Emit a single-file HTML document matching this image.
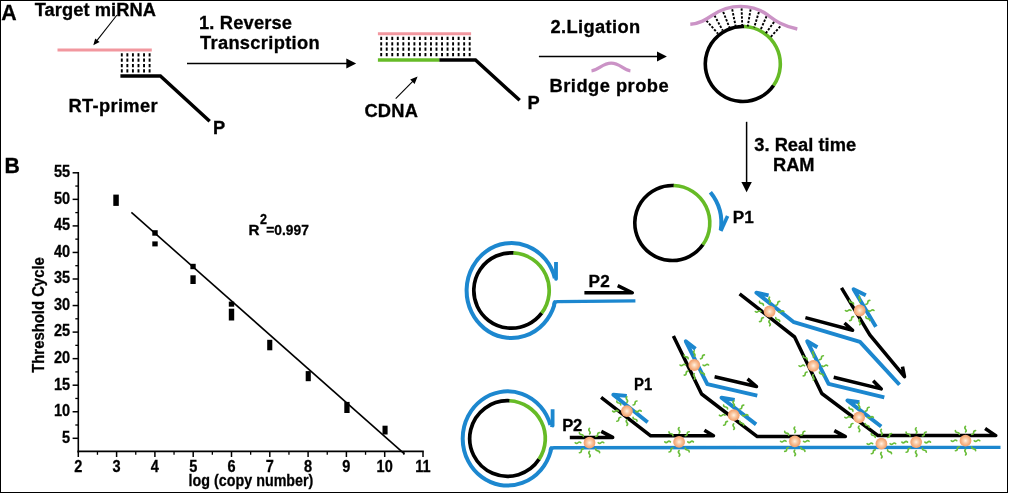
<!DOCTYPE html>
<html><head><meta charset="utf-8"><title>RAM miRNA assay</title>
<style>
html,body{margin:0;padding:0;background:#fff;}
svg{display:block;font-family:"Liberation Sans",sans-serif;}
text{stroke:#000;stroke-width:0.3px;}
</style></head><body>
<svg width="1009" height="494" viewBox="0 0 1009 494">
<defs>
<radialGradient id="bg" cx="50%" cy="50%" r="50%">
<stop offset="0" stop-color="#fff3e6"/><stop offset="0.35" stop-color="#fbd0ae"/><stop offset="0.8" stop-color="#f5ab7a"/><stop offset="1" stop-color="#f2a070"/>
</radialGradient>
<filter id="soft" filterUnits="userSpaceOnUse" x="0" y="0" width="1009" height="494"><feGaussianBlur stdDeviation="0.4"/></filter>
</defs>
<rect x="0" y="0" width="1008" height="1" fill="#000"/><rect x="0" y="0" width="1" height="493" fill="#000"/><rect x="1007" y="0" width="1" height="493" fill="#000"/><rect x="0" y="492" width="1008" height="1" fill="#000"/>
<g filter="url(#soft)">
<text x="1.3" y="19.8" font-size="21.8" font-weight="bold" text-anchor="start" textLength="15.4" lengthAdjust="spacingAndGlyphs" >A</text>
<text x="34.7" y="15.5" font-size="18.3" font-weight="bold" text-anchor="start" textLength="121.2" lengthAdjust="spacing" >Target miRNA</text>
<line x1="117" y1="15" x2="94.5" y2="43.6" stroke="#000" stroke-width="1.1" stroke-linecap="butt" />
<polygon points="93.3,45.2 95.2,38.6 99.6,42.0" fill="#000"/>
<line x1="57.5" y1="50" x2="151.8" y2="50" stroke="#f2979f" stroke-width="3" stroke-linecap="butt" />
<line x1="121.8" y1="53.2" x2="121.8" y2="72.8" stroke="#000" stroke-width="1.9" stroke-linecap="butt" stroke-dasharray="3.3 2.07"/>
<line x1="127.36" y1="53.2" x2="127.36" y2="72.8" stroke="#000" stroke-width="1.9" stroke-linecap="butt" stroke-dasharray="3.3 2.07"/>
<line x1="132.92" y1="53.2" x2="132.92" y2="72.8" stroke="#000" stroke-width="1.9" stroke-linecap="butt" stroke-dasharray="3.3 2.07"/>
<line x1="138.48" y1="53.2" x2="138.48" y2="72.8" stroke="#000" stroke-width="1.9" stroke-linecap="butt" stroke-dasharray="3.3 2.07"/>
<line x1="144.04" y1="53.2" x2="144.04" y2="72.8" stroke="#000" stroke-width="1.9" stroke-linecap="butt" stroke-dasharray="3.3 2.07"/>
<line x1="149.6" y1="53.2" x2="149.6" y2="72.8" stroke="#000" stroke-width="1.9" stroke-linecap="butt" stroke-dasharray="3.3 2.07"/>
<path d="M120.4,75.9 L160.4,75.9 L209.7,121.3" fill="none" stroke="#000" stroke-width="3.5" stroke-linejoin="miter"/>
<text x="68.6" y="112.3" font-size="18.3" font-weight="bold" text-anchor="start" textLength="88.9" lengthAdjust="spacing" >RT-primer</text>
<text x="213.0" y="134.3" font-size="18.3" font-weight="bold" text-anchor="start" >P</text>
<text x="199.0" y="28.9" font-size="18.3" font-weight="bold" text-anchor="start" textLength="93" lengthAdjust="spacing" >1. Reverse</text>
<text x="200.0" y="48.7" font-size="18.3" font-weight="bold" text-anchor="start" textLength="119.6" lengthAdjust="spacing" >Transcription</text>
<line x1="187" y1="63.5" x2="347" y2="63.5" stroke="#000" stroke-width="1.5" stroke-linecap="butt" />
<polygon points="356.2,63.5 346.3,58.4 346.3,68.6" fill="#000"/>
<line x1="377.9" y1="33.8" x2="471.1" y2="33.8" stroke="#f2979f" stroke-width="3" stroke-linecap="butt" />
<line x1="381.2" y1="36.8" x2="381.2" y2="56.4" stroke="#000" stroke-width="1.9" stroke-linecap="butt" stroke-dasharray="3.3 2.07"/>
<line x1="386.72999999999996" y1="36.8" x2="386.72999999999996" y2="56.4" stroke="#000" stroke-width="1.9" stroke-linecap="butt" stroke-dasharray="3.3 2.07"/>
<line x1="392.26" y1="36.8" x2="392.26" y2="56.4" stroke="#000" stroke-width="1.9" stroke-linecap="butt" stroke-dasharray="3.3 2.07"/>
<line x1="397.78999999999996" y1="36.8" x2="397.78999999999996" y2="56.4" stroke="#000" stroke-width="1.9" stroke-linecap="butt" stroke-dasharray="3.3 2.07"/>
<line x1="403.32" y1="36.8" x2="403.32" y2="56.4" stroke="#000" stroke-width="1.9" stroke-linecap="butt" stroke-dasharray="3.3 2.07"/>
<line x1="408.84999999999997" y1="36.8" x2="408.84999999999997" y2="56.4" stroke="#000" stroke-width="1.9" stroke-linecap="butt" stroke-dasharray="3.3 2.07"/>
<line x1="414.38" y1="36.8" x2="414.38" y2="56.4" stroke="#000" stroke-width="1.9" stroke-linecap="butt" stroke-dasharray="3.3 2.07"/>
<line x1="419.90999999999997" y1="36.8" x2="419.90999999999997" y2="56.4" stroke="#000" stroke-width="1.9" stroke-linecap="butt" stroke-dasharray="3.3 2.07"/>
<line x1="425.44" y1="36.8" x2="425.44" y2="56.4" stroke="#000" stroke-width="1.9" stroke-linecap="butt" stroke-dasharray="3.3 2.07"/>
<line x1="430.96999999999997" y1="36.8" x2="430.96999999999997" y2="56.4" stroke="#000" stroke-width="1.9" stroke-linecap="butt" stroke-dasharray="3.3 2.07"/>
<line x1="436.5" y1="36.8" x2="436.5" y2="56.4" stroke="#000" stroke-width="1.9" stroke-linecap="butt" stroke-dasharray="3.3 2.07"/>
<line x1="442.03" y1="36.8" x2="442.03" y2="56.4" stroke="#000" stroke-width="1.9" stroke-linecap="butt" stroke-dasharray="3.3 2.07"/>
<line x1="447.56" y1="36.8" x2="447.56" y2="56.4" stroke="#000" stroke-width="1.9" stroke-linecap="butt" stroke-dasharray="3.3 2.07"/>
<line x1="453.09" y1="36.8" x2="453.09" y2="56.4" stroke="#000" stroke-width="1.9" stroke-linecap="butt" stroke-dasharray="3.3 2.07"/>
<line x1="458.62" y1="36.8" x2="458.62" y2="56.4" stroke="#000" stroke-width="1.9" stroke-linecap="butt" stroke-dasharray="3.3 2.07"/>
<line x1="464.15" y1="36.8" x2="464.15" y2="56.4" stroke="#000" stroke-width="1.9" stroke-linecap="butt" stroke-dasharray="3.3 2.07"/>
<line x1="469.68" y1="36.8" x2="469.68" y2="56.4" stroke="#000" stroke-width="1.9" stroke-linecap="butt" stroke-dasharray="3.3 2.07"/>
<line x1="377.9" y1="60" x2="439.6" y2="60" stroke="#66bb26" stroke-width="3.5" stroke-linecap="butt" />
<path d="M439.4,60 L475.5,60 L519.7,100.3" fill="none" stroke="#000" stroke-width="3.5" stroke-linejoin="miter"/>
<text x="527.6" y="109" font-size="18.3" font-weight="bold" text-anchor="start" >P</text>
<text x="364.4" y="116.6" font-size="18.3" font-weight="bold" text-anchor="start" textLength="53.6" lengthAdjust="spacing" >CDNA</text>
<line x1="395.7" y1="98.7" x2="415.2" y2="78.8" stroke="#000" stroke-width="1.1" stroke-linecap="butt" />
<polygon points="417.6,76.4 410.2,79.6 414.6,83.9" fill="#000"/>
<text x="550.5" y="32.8" font-size="18.3" font-weight="bold" text-anchor="start" textLength="89.6" lengthAdjust="spacing" >2.Ligation</text>
<line x1="538.9" y1="56.5" x2="658" y2="56.5" stroke="#000" stroke-width="1.5" stroke-linecap="butt" />
<polygon points="666.9,56.5 657.0,51.4 657.0,61.6" fill="#000"/>
<path d="M591.5,70.9 C599,70.0 602.5,63.2 611.2,63.2 C620,63.2 623,70.0 630.4,70.9" fill="none" stroke="#cb93c6" stroke-width="3.3" stroke-linecap="butt"/>
<text x="549.6" y="92.4" font-size="18.3" font-weight="bold" text-anchor="start" textLength="119" lengthAdjust="spacing" >Bridge probe</text>
<path d="M773.70,85.24 A37.5,37.5 0 1 1 744.44,26.54" fill="none" stroke="#000" stroke-width="3.6" />
<path d="M744.11,26.52 A37.5,37.5 0 0 1 773.52,85.51" fill="none" stroke="#66bb26" stroke-width="3.6" />
<line x1="706.4" y1="20.6" x2="717.9" y2="33.55" stroke="#000" stroke-width="1.9" stroke-linecap="butt" stroke-dasharray="2.4 1.5"/>
<line x1="714.5" y1="15.5" x2="722.77" y2="30.58" stroke="#000" stroke-width="1.9" stroke-linecap="butt" stroke-dasharray="2.4 1.5"/>
<line x1="723.2" y1="11.9" x2="729.67" y2="28.07" stroke="#000" stroke-width="1.9" stroke-linecap="butt" stroke-dasharray="2.4 1.5"/>
<line x1="732.2" y1="9.3" x2="735.76" y2="26.86" stroke="#000" stroke-width="1.9" stroke-linecap="butt" stroke-dasharray="2.4 1.5"/>
<line x1="741.6" y1="8.4" x2="742.27" y2="26.3" stroke="#000" stroke-width="1.9" stroke-linecap="butt" stroke-dasharray="2.4 1.5"/>
<line x1="750.6" y1="9.3" x2="747.7" y2="26.47" stroke="#000" stroke-width="1.9" stroke-linecap="butt" stroke-dasharray="2.4 1.5"/>
<line x1="758.9" y1="11.9" x2="754.18" y2="27.52" stroke="#000" stroke-width="1.9" stroke-linecap="butt" stroke-dasharray="2.4 1.5"/>
<line x1="766.6" y1="16.1" x2="760.48" y2="30.05" stroke="#000" stroke-width="1.9" stroke-linecap="butt" stroke-dasharray="2.4 1.5"/>
<line x1="774.1" y1="21.9" x2="765.54" y2="33.66" stroke="#000" stroke-width="1.9" stroke-linecap="butt" stroke-dasharray="2.4 1.5"/>
<line x1="780.3" y1="26.4" x2="770.29" y2="37.43" stroke="#000" stroke-width="1.9" stroke-linecap="butt" stroke-dasharray="2.4 1.5"/>
<path d="M690.3,24.2 C700,23.5 706,19.5 712,15.5 C720,10 730,6.4 740.6,6.4 C751,6.4 760,9.5 767,14.5 C774,19.5 780,25.5 797.3,29" fill="none" stroke="#cb93c6" stroke-width="3.4" stroke-linejoin="round"/>
<line x1="746.6" y1="121.8" x2="746.6" y2="183" stroke="#000" stroke-width="1.5" stroke-linecap="butt" />
<polygon points="746.6,192.3 741.4,182.0 751.8,182.0" fill="#000"/>
<text x="754.2" y="150.7" font-size="18.3" font-weight="bold" text-anchor="start" textLength="102" lengthAdjust="spacing" >3. Real time</text>
<text x="773.0" y="170.8" font-size="18.3" font-weight="bold" text-anchor="start" textLength="41.6" lengthAdjust="spacing" >RAM</text>
<path d="M703.02,244.51 A37.5,37.5 0 1 1 673.94,185.54" fill="none" stroke="#000" stroke-width="3.6" />
<path d="M673.61,185.52 A37.5,37.5 0 0 1 702.83,244.78" fill="none" stroke="#66bb26" stroke-width="3.6" />
<path d="M710.38,192.16 A49,49 0 0 1 720.76,230.24" fill="none" stroke="#1b87cf" stroke-width="4.0" />
<path d="M720.8,231.0 L727.6,216" fill="none" stroke="#1b87cf" stroke-width="3.6" stroke-linejoin="round"/>
<text x="732.8" y="223.4" font-size="17.2" font-weight="bold" text-anchor="start" >P1</text>
<path d="M541.81,312.92 A37.7,37.7 0 1 1 513.80,252.87" fill="none" stroke="#000" stroke-width="3.7" />
<path d="M513.47,252.85 A37.7,37.7 0 0 1 541.61,313.19" fill="none" stroke="#66bb26" stroke-width="3.7" />
<path d="M635.4,300.9 L557.6,301.6 Q554.4,301.6 554.1,305.6" fill="none" stroke="#1b87cf" stroke-width="3.4" stroke-linejoin="round"/>
<path d="M555.3,302.0 Q554.1,302.0 554.1,305.6 A44.9,47.5 0 1 1 554.87,278.20" fill="none" stroke="#1b87cf" stroke-width="4.0" stroke-linejoin="round"/>
<path d="M554.9,278.2 L556.0,278.7 L556.0,262.0" fill="none" stroke="#1b87cf" stroke-width="3.8" stroke-linejoin="round"/>
<text x="588.5" y="287.1" font-size="17.2" font-weight="bold" text-anchor="start" textLength="21.4" lengthAdjust="spacing" >P2</text>
<path d="M584.4,292.7 L632.3,292.7 L617.7,285.6" fill="none" stroke="#000" stroke-width="3.5" stroke-linejoin="round"/>
<path d="M539.20,459.09 A37.8,37.8 0 1 1 509.81,400.77" fill="none" stroke="#000" stroke-width="3.7" />
<path d="M509.48,400.75 A37.8,37.8 0 0 1 539.02,459.36" fill="none" stroke="#66bb26" stroke-width="3.7" />
<path d="M1000.5,447.4 L554.0,447.7 Q550.8,447.7 550.5,451.7" fill="none" stroke="#1b87cf" stroke-width="3.4" stroke-linejoin="round"/>
<path d="M551.7,448.09999999999997 Q550.5,448.09999999999997 550.5,451.7 A44.8,47.1 0 1 1 550.42,425.00" fill="none" stroke="#1b87cf" stroke-width="4.0" stroke-linejoin="round"/>
<path d="M550.4,425.0 L552.6,425.5 L552.6,409.2" fill="none" stroke="#1b87cf" stroke-width="3.8" stroke-linejoin="round"/>
<text x="562.2" y="431" font-size="16.6" font-weight="bold" text-anchor="start" textLength="20" lengthAdjust="spacing" >P2</text>
<path d="M569.8,437.4 L612.7,437.4 L601.3,431.4" fill="none" stroke="#000" stroke-width="3.5" stroke-linejoin="round"/>
<path d="M601.1,397.3 L650.7,435.8 L713.5,435.8 L704.4,430.3" fill="none" stroke="#000" stroke-width="3.5" stroke-linejoin="round"/>
<path d="M647.7,422.2 L613.3,394.7 L626.8,395.9" fill="none" stroke="#1b87cf" stroke-width="3.9" stroke-linejoin="round"/>
<text x="634" y="389.6" font-size="15.8" font-weight="bold" text-anchor="start" textLength="18.2" lengthAdjust="spacingAndGlyphs" >P1</text>
<path d="M673.4,336 L701.6,394 L757.3,436.6 L845.4,436.6 L834.3,430.6" fill="none" stroke="#000" stroke-width="3.5" stroke-linejoin="round"/>
<path d="M757.3,395.6 L707.3,384.2 L685.8,341.3 L695.5,348.9" fill="none" stroke="#1b87cf" stroke-width="3.9" stroke-linejoin="round"/>
<path d="M714.6,376.8 L756.5,386.5 L747.5,378.8" fill="none" stroke="#000" stroke-width="3.5" stroke-linejoin="round"/>
<path d="M756.1,424.4 L721.5,397.8 L734.7,399.9" fill="none" stroke="#1b87cf" stroke-width="3.9" stroke-linejoin="round"/>
<path d="M739.6,293.9 L794.6,337 L821.8,393.5 L878,435.6 L995.8,435.6 L985.1,428.5" fill="none" stroke="#000" stroke-width="3.5" stroke-linejoin="round"/>
<path d="M899.5,384.8 L860,341.9 L793.9,322.2 L756.4,292.7 L768.6,295.3" fill="none" stroke="#1b87cf" stroke-width="3.9" stroke-linejoin="round"/>
<path d="M805.4,317.6 L852.6,330.3 L844.5,323" fill="none" stroke="#000" stroke-width="3.5" stroke-linejoin="round"/>
<path d="M884.3,397.4 L828.6,383.8 L807.2,341.3 L817.4,347.2" fill="none" stroke="#1b87cf" stroke-width="3.9" stroke-linejoin="round"/>
<path d="M833.7,377.3 L881.3,388.9 L873.2,380.8" fill="none" stroke="#000" stroke-width="3.5" stroke-linejoin="round"/>
<path d="M881.2,426.5 L847.4,400.4 L859.4,402.2" fill="none" stroke="#1b87cf" stroke-width="3.9" stroke-linejoin="round"/>
<path d="M841.5,287.8 L869.8,334.8 L904.5,376.7 L902.5,366.6" fill="none" stroke="#000" stroke-width="3.5" stroke-linejoin="round"/>
<path d="M875.9,326.7 L853.6,289.2 L865.8,295.3" fill="none" stroke="#1b87cf" stroke-width="3.9" stroke-linejoin="round"/>
<g transform="translate(589.5,442.7)"><path transform="rotate(0)" d="M0,-8.7 q1.4,-1.4 0,-2.8 q-1.4,-1.4 0,-2.8" fill="none" stroke="#69bd38" stroke-width="1.6" stroke-linecap="round"/><path transform="rotate(45)" d="M0,-8.7 q1.4,-1.4 0,-2.8 q-1.4,-1.4 0,-2.8" fill="none" stroke="#69bd38" stroke-width="1.6" stroke-linecap="round"/><path transform="rotate(90)" d="M0,-8.7 q1.4,-1.4 0,-2.8 q-1.4,-1.4 0,-2.8" fill="none" stroke="#69bd38" stroke-width="1.6" stroke-linecap="round"/><path transform="rotate(135)" d="M0,-8.7 q1.4,-1.4 0,-2.8 q-1.4,-1.4 0,-2.8" fill="none" stroke="#69bd38" stroke-width="1.6" stroke-linecap="round"/><path transform="rotate(180)" d="M0,-8.7 q1.4,-1.4 0,-2.8 q-1.4,-1.4 0,-2.8" fill="none" stroke="#69bd38" stroke-width="1.6" stroke-linecap="round"/><path transform="rotate(225)" d="M0,-8.7 q1.4,-1.4 0,-2.8 q-1.4,-1.4 0,-2.8" fill="none" stroke="#69bd38" stroke-width="1.6" stroke-linecap="round"/><path transform="rotate(270)" d="M0,-8.7 q1.4,-1.4 0,-2.8 q-1.4,-1.4 0,-2.8" fill="none" stroke="#69bd38" stroke-width="1.6" stroke-linecap="round"/><path transform="rotate(315)" d="M0,-8.7 q1.4,-1.4 0,-2.8 q-1.4,-1.4 0,-2.8" fill="none" stroke="#69bd38" stroke-width="1.6" stroke-linecap="round"/><circle r="5.9" fill="url(#bg)"/></g>
<g transform="translate(626.9,411.1)"><path transform="rotate(0)" d="M0,-8.7 q1.4,-1.4 0,-2.8 q-1.4,-1.4 0,-2.8" fill="none" stroke="#69bd38" stroke-width="1.6" stroke-linecap="round"/><path transform="rotate(45)" d="M0,-8.7 q1.4,-1.4 0,-2.8 q-1.4,-1.4 0,-2.8" fill="none" stroke="#69bd38" stroke-width="1.6" stroke-linecap="round"/><path transform="rotate(90)" d="M0,-8.7 q1.4,-1.4 0,-2.8 q-1.4,-1.4 0,-2.8" fill="none" stroke="#69bd38" stroke-width="1.6" stroke-linecap="round"/><path transform="rotate(135)" d="M0,-8.7 q1.4,-1.4 0,-2.8 q-1.4,-1.4 0,-2.8" fill="none" stroke="#69bd38" stroke-width="1.6" stroke-linecap="round"/><path transform="rotate(180)" d="M0,-8.7 q1.4,-1.4 0,-2.8 q-1.4,-1.4 0,-2.8" fill="none" stroke="#69bd38" stroke-width="1.6" stroke-linecap="round"/><path transform="rotate(225)" d="M0,-8.7 q1.4,-1.4 0,-2.8 q-1.4,-1.4 0,-2.8" fill="none" stroke="#69bd38" stroke-width="1.6" stroke-linecap="round"/><path transform="rotate(270)" d="M0,-8.7 q1.4,-1.4 0,-2.8 q-1.4,-1.4 0,-2.8" fill="none" stroke="#69bd38" stroke-width="1.6" stroke-linecap="round"/><path transform="rotate(315)" d="M0,-8.7 q1.4,-1.4 0,-2.8 q-1.4,-1.4 0,-2.8" fill="none" stroke="#69bd38" stroke-width="1.6" stroke-linecap="round"/><circle r="5.9" fill="url(#bg)"/></g>
<g transform="translate(679.1,441.9)"><path transform="rotate(0)" d="M0,-8.7 q1.4,-1.4 0,-2.8 q-1.4,-1.4 0,-2.8" fill="none" stroke="#69bd38" stroke-width="1.6" stroke-linecap="round"/><path transform="rotate(45)" d="M0,-8.7 q1.4,-1.4 0,-2.8 q-1.4,-1.4 0,-2.8" fill="none" stroke="#69bd38" stroke-width="1.6" stroke-linecap="round"/><path transform="rotate(90)" d="M0,-8.7 q1.4,-1.4 0,-2.8 q-1.4,-1.4 0,-2.8" fill="none" stroke="#69bd38" stroke-width="1.6" stroke-linecap="round"/><path transform="rotate(135)" d="M0,-8.7 q1.4,-1.4 0,-2.8 q-1.4,-1.4 0,-2.8" fill="none" stroke="#69bd38" stroke-width="1.6" stroke-linecap="round"/><path transform="rotate(180)" d="M0,-8.7 q1.4,-1.4 0,-2.8 q-1.4,-1.4 0,-2.8" fill="none" stroke="#69bd38" stroke-width="1.6" stroke-linecap="round"/><path transform="rotate(225)" d="M0,-8.7 q1.4,-1.4 0,-2.8 q-1.4,-1.4 0,-2.8" fill="none" stroke="#69bd38" stroke-width="1.6" stroke-linecap="round"/><path transform="rotate(270)" d="M0,-8.7 q1.4,-1.4 0,-2.8 q-1.4,-1.4 0,-2.8" fill="none" stroke="#69bd38" stroke-width="1.6" stroke-linecap="round"/><path transform="rotate(315)" d="M0,-8.7 q1.4,-1.4 0,-2.8 q-1.4,-1.4 0,-2.8" fill="none" stroke="#69bd38" stroke-width="1.6" stroke-linecap="round"/><circle r="5.9" fill="url(#bg)"/></g>
<g transform="translate(694.3,365)"><path transform="rotate(0)" d="M0,-8.7 q1.4,-1.4 0,-2.8 q-1.4,-1.4 0,-2.8" fill="none" stroke="#69bd38" stroke-width="1.6" stroke-linecap="round"/><path transform="rotate(45)" d="M0,-8.7 q1.4,-1.4 0,-2.8 q-1.4,-1.4 0,-2.8" fill="none" stroke="#69bd38" stroke-width="1.6" stroke-linecap="round"/><path transform="rotate(90)" d="M0,-8.7 q1.4,-1.4 0,-2.8 q-1.4,-1.4 0,-2.8" fill="none" stroke="#69bd38" stroke-width="1.6" stroke-linecap="round"/><path transform="rotate(135)" d="M0,-8.7 q1.4,-1.4 0,-2.8 q-1.4,-1.4 0,-2.8" fill="none" stroke="#69bd38" stroke-width="1.6" stroke-linecap="round"/><path transform="rotate(180)" d="M0,-8.7 q1.4,-1.4 0,-2.8 q-1.4,-1.4 0,-2.8" fill="none" stroke="#69bd38" stroke-width="1.6" stroke-linecap="round"/><path transform="rotate(225)" d="M0,-8.7 q1.4,-1.4 0,-2.8 q-1.4,-1.4 0,-2.8" fill="none" stroke="#69bd38" stroke-width="1.6" stroke-linecap="round"/><path transform="rotate(270)" d="M0,-8.7 q1.4,-1.4 0,-2.8 q-1.4,-1.4 0,-2.8" fill="none" stroke="#69bd38" stroke-width="1.6" stroke-linecap="round"/><path transform="rotate(315)" d="M0,-8.7 q1.4,-1.4 0,-2.8 q-1.4,-1.4 0,-2.8" fill="none" stroke="#69bd38" stroke-width="1.6" stroke-linecap="round"/><circle r="5.9" fill="url(#bg)"/></g>
<g transform="translate(733.7,415.2)"><path transform="rotate(0)" d="M0,-8.7 q1.4,-1.4 0,-2.8 q-1.4,-1.4 0,-2.8" fill="none" stroke="#69bd38" stroke-width="1.6" stroke-linecap="round"/><path transform="rotate(45)" d="M0,-8.7 q1.4,-1.4 0,-2.8 q-1.4,-1.4 0,-2.8" fill="none" stroke="#69bd38" stroke-width="1.6" stroke-linecap="round"/><path transform="rotate(90)" d="M0,-8.7 q1.4,-1.4 0,-2.8 q-1.4,-1.4 0,-2.8" fill="none" stroke="#69bd38" stroke-width="1.6" stroke-linecap="round"/><path transform="rotate(135)" d="M0,-8.7 q1.4,-1.4 0,-2.8 q-1.4,-1.4 0,-2.8" fill="none" stroke="#69bd38" stroke-width="1.6" stroke-linecap="round"/><path transform="rotate(180)" d="M0,-8.7 q1.4,-1.4 0,-2.8 q-1.4,-1.4 0,-2.8" fill="none" stroke="#69bd38" stroke-width="1.6" stroke-linecap="round"/><path transform="rotate(225)" d="M0,-8.7 q1.4,-1.4 0,-2.8 q-1.4,-1.4 0,-2.8" fill="none" stroke="#69bd38" stroke-width="1.6" stroke-linecap="round"/><path transform="rotate(270)" d="M0,-8.7 q1.4,-1.4 0,-2.8 q-1.4,-1.4 0,-2.8" fill="none" stroke="#69bd38" stroke-width="1.6" stroke-linecap="round"/><path transform="rotate(315)" d="M0,-8.7 q1.4,-1.4 0,-2.8 q-1.4,-1.4 0,-2.8" fill="none" stroke="#69bd38" stroke-width="1.6" stroke-linecap="round"/><circle r="5.9" fill="url(#bg)"/></g>
<g transform="translate(794.8,441.3)"><path transform="rotate(0)" d="M0,-8.7 q1.4,-1.4 0,-2.8 q-1.4,-1.4 0,-2.8" fill="none" stroke="#69bd38" stroke-width="1.6" stroke-linecap="round"/><path transform="rotate(45)" d="M0,-8.7 q1.4,-1.4 0,-2.8 q-1.4,-1.4 0,-2.8" fill="none" stroke="#69bd38" stroke-width="1.6" stroke-linecap="round"/><path transform="rotate(90)" d="M0,-8.7 q1.4,-1.4 0,-2.8 q-1.4,-1.4 0,-2.8" fill="none" stroke="#69bd38" stroke-width="1.6" stroke-linecap="round"/><path transform="rotate(135)" d="M0,-8.7 q1.4,-1.4 0,-2.8 q-1.4,-1.4 0,-2.8" fill="none" stroke="#69bd38" stroke-width="1.6" stroke-linecap="round"/><path transform="rotate(180)" d="M0,-8.7 q1.4,-1.4 0,-2.8 q-1.4,-1.4 0,-2.8" fill="none" stroke="#69bd38" stroke-width="1.6" stroke-linecap="round"/><path transform="rotate(225)" d="M0,-8.7 q1.4,-1.4 0,-2.8 q-1.4,-1.4 0,-2.8" fill="none" stroke="#69bd38" stroke-width="1.6" stroke-linecap="round"/><path transform="rotate(270)" d="M0,-8.7 q1.4,-1.4 0,-2.8 q-1.4,-1.4 0,-2.8" fill="none" stroke="#69bd38" stroke-width="1.6" stroke-linecap="round"/><path transform="rotate(315)" d="M0,-8.7 q1.4,-1.4 0,-2.8 q-1.4,-1.4 0,-2.8" fill="none" stroke="#69bd38" stroke-width="1.6" stroke-linecap="round"/><circle r="5.9" fill="url(#bg)"/></g>
<g transform="translate(769.6,311.5)"><path transform="rotate(0)" d="M0,-8.7 q1.4,-1.4 0,-2.8 q-1.4,-1.4 0,-2.8" fill="none" stroke="#69bd38" stroke-width="1.6" stroke-linecap="round"/><path transform="rotate(45)" d="M0,-8.7 q1.4,-1.4 0,-2.8 q-1.4,-1.4 0,-2.8" fill="none" stroke="#69bd38" stroke-width="1.6" stroke-linecap="round"/><path transform="rotate(90)" d="M0,-8.7 q1.4,-1.4 0,-2.8 q-1.4,-1.4 0,-2.8" fill="none" stroke="#69bd38" stroke-width="1.6" stroke-linecap="round"/><path transform="rotate(135)" d="M0,-8.7 q1.4,-1.4 0,-2.8 q-1.4,-1.4 0,-2.8" fill="none" stroke="#69bd38" stroke-width="1.6" stroke-linecap="round"/><path transform="rotate(180)" d="M0,-8.7 q1.4,-1.4 0,-2.8 q-1.4,-1.4 0,-2.8" fill="none" stroke="#69bd38" stroke-width="1.6" stroke-linecap="round"/><path transform="rotate(225)" d="M0,-8.7 q1.4,-1.4 0,-2.8 q-1.4,-1.4 0,-2.8" fill="none" stroke="#69bd38" stroke-width="1.6" stroke-linecap="round"/><path transform="rotate(270)" d="M0,-8.7 q1.4,-1.4 0,-2.8 q-1.4,-1.4 0,-2.8" fill="none" stroke="#69bd38" stroke-width="1.6" stroke-linecap="round"/><path transform="rotate(315)" d="M0,-8.7 q1.4,-1.4 0,-2.8 q-1.4,-1.4 0,-2.8" fill="none" stroke="#69bd38" stroke-width="1.6" stroke-linecap="round"/><circle r="5.9" fill="url(#bg)"/></g>
<g transform="translate(859.7,310.5)"><path transform="rotate(0)" d="M0,-8.7 q1.4,-1.4 0,-2.8 q-1.4,-1.4 0,-2.8" fill="none" stroke="#69bd38" stroke-width="1.6" stroke-linecap="round"/><path transform="rotate(45)" d="M0,-8.7 q1.4,-1.4 0,-2.8 q-1.4,-1.4 0,-2.8" fill="none" stroke="#69bd38" stroke-width="1.6" stroke-linecap="round"/><path transform="rotate(90)" d="M0,-8.7 q1.4,-1.4 0,-2.8 q-1.4,-1.4 0,-2.8" fill="none" stroke="#69bd38" stroke-width="1.6" stroke-linecap="round"/><path transform="rotate(135)" d="M0,-8.7 q1.4,-1.4 0,-2.8 q-1.4,-1.4 0,-2.8" fill="none" stroke="#69bd38" stroke-width="1.6" stroke-linecap="round"/><path transform="rotate(180)" d="M0,-8.7 q1.4,-1.4 0,-2.8 q-1.4,-1.4 0,-2.8" fill="none" stroke="#69bd38" stroke-width="1.6" stroke-linecap="round"/><path transform="rotate(225)" d="M0,-8.7 q1.4,-1.4 0,-2.8 q-1.4,-1.4 0,-2.8" fill="none" stroke="#69bd38" stroke-width="1.6" stroke-linecap="round"/><path transform="rotate(270)" d="M0,-8.7 q1.4,-1.4 0,-2.8 q-1.4,-1.4 0,-2.8" fill="none" stroke="#69bd38" stroke-width="1.6" stroke-linecap="round"/><path transform="rotate(315)" d="M0,-8.7 q1.4,-1.4 0,-2.8 q-1.4,-1.4 0,-2.8" fill="none" stroke="#69bd38" stroke-width="1.6" stroke-linecap="round"/><circle r="5.9" fill="url(#bg)"/></g>
<g transform="translate(813.3,365.8)"><path transform="rotate(0)" d="M0,-8.7 q1.4,-1.4 0,-2.8 q-1.4,-1.4 0,-2.8" fill="none" stroke="#69bd38" stroke-width="1.6" stroke-linecap="round"/><path transform="rotate(45)" d="M0,-8.7 q1.4,-1.4 0,-2.8 q-1.4,-1.4 0,-2.8" fill="none" stroke="#69bd38" stroke-width="1.6" stroke-linecap="round"/><path transform="rotate(90)" d="M0,-8.7 q1.4,-1.4 0,-2.8 q-1.4,-1.4 0,-2.8" fill="none" stroke="#69bd38" stroke-width="1.6" stroke-linecap="round"/><path transform="rotate(135)" d="M0,-8.7 q1.4,-1.4 0,-2.8 q-1.4,-1.4 0,-2.8" fill="none" stroke="#69bd38" stroke-width="1.6" stroke-linecap="round"/><path transform="rotate(180)" d="M0,-8.7 q1.4,-1.4 0,-2.8 q-1.4,-1.4 0,-2.8" fill="none" stroke="#69bd38" stroke-width="1.6" stroke-linecap="round"/><path transform="rotate(225)" d="M0,-8.7 q1.4,-1.4 0,-2.8 q-1.4,-1.4 0,-2.8" fill="none" stroke="#69bd38" stroke-width="1.6" stroke-linecap="round"/><path transform="rotate(270)" d="M0,-8.7 q1.4,-1.4 0,-2.8 q-1.4,-1.4 0,-2.8" fill="none" stroke="#69bd38" stroke-width="1.6" stroke-linecap="round"/><path transform="rotate(315)" d="M0,-8.7 q1.4,-1.4 0,-2.8 q-1.4,-1.4 0,-2.8" fill="none" stroke="#69bd38" stroke-width="1.6" stroke-linecap="round"/><circle r="5.9" fill="url(#bg)"/></g>
<g transform="translate(859.1,417.3)"><path transform="rotate(0)" d="M0,-8.7 q1.4,-1.4 0,-2.8 q-1.4,-1.4 0,-2.8" fill="none" stroke="#69bd38" stroke-width="1.6" stroke-linecap="round"/><path transform="rotate(45)" d="M0,-8.7 q1.4,-1.4 0,-2.8 q-1.4,-1.4 0,-2.8" fill="none" stroke="#69bd38" stroke-width="1.6" stroke-linecap="round"/><path transform="rotate(90)" d="M0,-8.7 q1.4,-1.4 0,-2.8 q-1.4,-1.4 0,-2.8" fill="none" stroke="#69bd38" stroke-width="1.6" stroke-linecap="round"/><path transform="rotate(135)" d="M0,-8.7 q1.4,-1.4 0,-2.8 q-1.4,-1.4 0,-2.8" fill="none" stroke="#69bd38" stroke-width="1.6" stroke-linecap="round"/><path transform="rotate(180)" d="M0,-8.7 q1.4,-1.4 0,-2.8 q-1.4,-1.4 0,-2.8" fill="none" stroke="#69bd38" stroke-width="1.6" stroke-linecap="round"/><path transform="rotate(225)" d="M0,-8.7 q1.4,-1.4 0,-2.8 q-1.4,-1.4 0,-2.8" fill="none" stroke="#69bd38" stroke-width="1.6" stroke-linecap="round"/><path transform="rotate(270)" d="M0,-8.7 q1.4,-1.4 0,-2.8 q-1.4,-1.4 0,-2.8" fill="none" stroke="#69bd38" stroke-width="1.6" stroke-linecap="round"/><path transform="rotate(315)" d="M0,-8.7 q1.4,-1.4 0,-2.8 q-1.4,-1.4 0,-2.8" fill="none" stroke="#69bd38" stroke-width="1.6" stroke-linecap="round"/><circle r="5.9" fill="url(#bg)"/></g>
<g transform="translate(881.4,443.7)"><path transform="rotate(0)" d="M0,-8.7 q1.4,-1.4 0,-2.8 q-1.4,-1.4 0,-2.8" fill="none" stroke="#69bd38" stroke-width="1.6" stroke-linecap="round"/><path transform="rotate(45)" d="M0,-8.7 q1.4,-1.4 0,-2.8 q-1.4,-1.4 0,-2.8" fill="none" stroke="#69bd38" stroke-width="1.6" stroke-linecap="round"/><path transform="rotate(90)" d="M0,-8.7 q1.4,-1.4 0,-2.8 q-1.4,-1.4 0,-2.8" fill="none" stroke="#69bd38" stroke-width="1.6" stroke-linecap="round"/><path transform="rotate(135)" d="M0,-8.7 q1.4,-1.4 0,-2.8 q-1.4,-1.4 0,-2.8" fill="none" stroke="#69bd38" stroke-width="1.6" stroke-linecap="round"/><path transform="rotate(180)" d="M0,-8.7 q1.4,-1.4 0,-2.8 q-1.4,-1.4 0,-2.8" fill="none" stroke="#69bd38" stroke-width="1.6" stroke-linecap="round"/><path transform="rotate(225)" d="M0,-8.7 q1.4,-1.4 0,-2.8 q-1.4,-1.4 0,-2.8" fill="none" stroke="#69bd38" stroke-width="1.6" stroke-linecap="round"/><path transform="rotate(270)" d="M0,-8.7 q1.4,-1.4 0,-2.8 q-1.4,-1.4 0,-2.8" fill="none" stroke="#69bd38" stroke-width="1.6" stroke-linecap="round"/><path transform="rotate(315)" d="M0,-8.7 q1.4,-1.4 0,-2.8 q-1.4,-1.4 0,-2.8" fill="none" stroke="#69bd38" stroke-width="1.6" stroke-linecap="round"/><circle r="5.9" fill="url(#bg)"/></g>
<g transform="translate(916.2,442.1)"><path transform="rotate(0)" d="M0,-8.7 q1.4,-1.4 0,-2.8 q-1.4,-1.4 0,-2.8" fill="none" stroke="#69bd38" stroke-width="1.6" stroke-linecap="round"/><path transform="rotate(45)" d="M0,-8.7 q1.4,-1.4 0,-2.8 q-1.4,-1.4 0,-2.8" fill="none" stroke="#69bd38" stroke-width="1.6" stroke-linecap="round"/><path transform="rotate(90)" d="M0,-8.7 q1.4,-1.4 0,-2.8 q-1.4,-1.4 0,-2.8" fill="none" stroke="#69bd38" stroke-width="1.6" stroke-linecap="round"/><path transform="rotate(135)" d="M0,-8.7 q1.4,-1.4 0,-2.8 q-1.4,-1.4 0,-2.8" fill="none" stroke="#69bd38" stroke-width="1.6" stroke-linecap="round"/><path transform="rotate(180)" d="M0,-8.7 q1.4,-1.4 0,-2.8 q-1.4,-1.4 0,-2.8" fill="none" stroke="#69bd38" stroke-width="1.6" stroke-linecap="round"/><path transform="rotate(225)" d="M0,-8.7 q1.4,-1.4 0,-2.8 q-1.4,-1.4 0,-2.8" fill="none" stroke="#69bd38" stroke-width="1.6" stroke-linecap="round"/><path transform="rotate(270)" d="M0,-8.7 q1.4,-1.4 0,-2.8 q-1.4,-1.4 0,-2.8" fill="none" stroke="#69bd38" stroke-width="1.6" stroke-linecap="round"/><path transform="rotate(315)" d="M0,-8.7 q1.4,-1.4 0,-2.8 q-1.4,-1.4 0,-2.8" fill="none" stroke="#69bd38" stroke-width="1.6" stroke-linecap="round"/><circle r="5.9" fill="url(#bg)"/></g>
<g transform="translate(965.5,440.7)"><path transform="rotate(0)" d="M0,-8.7 q1.4,-1.4 0,-2.8 q-1.4,-1.4 0,-2.8" fill="none" stroke="#69bd38" stroke-width="1.6" stroke-linecap="round"/><path transform="rotate(45)" d="M0,-8.7 q1.4,-1.4 0,-2.8 q-1.4,-1.4 0,-2.8" fill="none" stroke="#69bd38" stroke-width="1.6" stroke-linecap="round"/><path transform="rotate(90)" d="M0,-8.7 q1.4,-1.4 0,-2.8 q-1.4,-1.4 0,-2.8" fill="none" stroke="#69bd38" stroke-width="1.6" stroke-linecap="round"/><path transform="rotate(135)" d="M0,-8.7 q1.4,-1.4 0,-2.8 q-1.4,-1.4 0,-2.8" fill="none" stroke="#69bd38" stroke-width="1.6" stroke-linecap="round"/><path transform="rotate(180)" d="M0,-8.7 q1.4,-1.4 0,-2.8 q-1.4,-1.4 0,-2.8" fill="none" stroke="#69bd38" stroke-width="1.6" stroke-linecap="round"/><path transform="rotate(225)" d="M0,-8.7 q1.4,-1.4 0,-2.8 q-1.4,-1.4 0,-2.8" fill="none" stroke="#69bd38" stroke-width="1.6" stroke-linecap="round"/><path transform="rotate(270)" d="M0,-8.7 q1.4,-1.4 0,-2.8 q-1.4,-1.4 0,-2.8" fill="none" stroke="#69bd38" stroke-width="1.6" stroke-linecap="round"/><path transform="rotate(315)" d="M0,-8.7 q1.4,-1.4 0,-2.8 q-1.4,-1.4 0,-2.8" fill="none" stroke="#69bd38" stroke-width="1.6" stroke-linecap="round"/><circle r="5.9" fill="url(#bg)"/></g>
<text x="4.4" y="172.6" font-size="21.2" font-weight="bold" text-anchor="start" >B</text>
<line x1="78.3" y1="172" x2="78.3" y2="452.4" stroke="#000" stroke-width="1.6" stroke-linecap="butt" />
<line x1="77.5" y1="451.4" x2="423.8" y2="451.4" stroke="#000" stroke-width="1.6" stroke-linecap="butt" />
<line x1="72.6" y1="438.3" x2="78.3" y2="438.3" stroke="#000" stroke-width="1.5" stroke-linecap="butt" />
<text x="70.1" y="442.6" font-size="16.6" font-weight="bold" text-anchor="end" textLength="8.08" lengthAdjust="spacingAndGlyphs" stroke="#000" stroke-width="0.3">5</text>
<line x1="75.3" y1="425.0" x2="78.3" y2="425.0" stroke="#000" stroke-width="1.3" stroke-linecap="butt" />
<line x1="72.6" y1="411.75" x2="78.3" y2="411.75" stroke="#000" stroke-width="1.5" stroke-linecap="butt" />
<text x="70.1" y="416.05" font-size="16.6" font-weight="bold" text-anchor="end" textLength="16.16" lengthAdjust="spacingAndGlyphs" stroke="#000" stroke-width="0.3">10</text>
<line x1="75.3" y1="398.45" x2="78.3" y2="398.45" stroke="#000" stroke-width="1.3" stroke-linecap="butt" />
<line x1="72.6" y1="385.2" x2="78.3" y2="385.2" stroke="#000" stroke-width="1.5" stroke-linecap="butt" />
<text x="70.1" y="389.5" font-size="16.6" font-weight="bold" text-anchor="end" textLength="16.16" lengthAdjust="spacingAndGlyphs" stroke="#000" stroke-width="0.3">15</text>
<line x1="75.3" y1="371.9" x2="78.3" y2="371.9" stroke="#000" stroke-width="1.3" stroke-linecap="butt" />
<line x1="72.6" y1="358.65" x2="78.3" y2="358.65" stroke="#000" stroke-width="1.5" stroke-linecap="butt" />
<text x="70.1" y="362.95" font-size="16.6" font-weight="bold" text-anchor="end" textLength="16.16" lengthAdjust="spacingAndGlyphs" stroke="#000" stroke-width="0.3">20</text>
<line x1="75.3" y1="345.34999999999997" x2="78.3" y2="345.34999999999997" stroke="#000" stroke-width="1.3" stroke-linecap="butt" />
<line x1="72.6" y1="332.1" x2="78.3" y2="332.1" stroke="#000" stroke-width="1.5" stroke-linecap="butt" />
<text x="70.1" y="336.40000000000003" font-size="16.6" font-weight="bold" text-anchor="end" textLength="16.16" lengthAdjust="spacingAndGlyphs" stroke="#000" stroke-width="0.3">25</text>
<line x1="75.3" y1="318.8" x2="78.3" y2="318.8" stroke="#000" stroke-width="1.3" stroke-linecap="butt" />
<line x1="72.6" y1="305.55" x2="78.3" y2="305.55" stroke="#000" stroke-width="1.5" stroke-linecap="butt" />
<text x="70.1" y="309.85" font-size="16.6" font-weight="bold" text-anchor="end" textLength="16.16" lengthAdjust="spacingAndGlyphs" stroke="#000" stroke-width="0.3">30</text>
<line x1="75.3" y1="292.25" x2="78.3" y2="292.25" stroke="#000" stroke-width="1.3" stroke-linecap="butt" />
<line x1="72.6" y1="279.0" x2="78.3" y2="279.0" stroke="#000" stroke-width="1.5" stroke-linecap="butt" />
<text x="70.1" y="283.3" font-size="16.6" font-weight="bold" text-anchor="end" textLength="16.16" lengthAdjust="spacingAndGlyphs" stroke="#000" stroke-width="0.3">35</text>
<line x1="75.3" y1="265.7" x2="78.3" y2="265.7" stroke="#000" stroke-width="1.3" stroke-linecap="butt" />
<line x1="72.6" y1="252.45" x2="78.3" y2="252.45" stroke="#000" stroke-width="1.5" stroke-linecap="butt" />
<text x="70.1" y="256.75" font-size="16.6" font-weight="bold" text-anchor="end" textLength="16.16" lengthAdjust="spacingAndGlyphs" stroke="#000" stroke-width="0.3">40</text>
<line x1="75.3" y1="239.14999999999998" x2="78.3" y2="239.14999999999998" stroke="#000" stroke-width="1.3" stroke-linecap="butt" />
<line x1="72.6" y1="225.9" x2="78.3" y2="225.9" stroke="#000" stroke-width="1.5" stroke-linecap="butt" />
<text x="70.1" y="230.20000000000002" font-size="16.6" font-weight="bold" text-anchor="end" textLength="16.16" lengthAdjust="spacingAndGlyphs" stroke="#000" stroke-width="0.3">45</text>
<line x1="75.3" y1="212.6" x2="78.3" y2="212.6" stroke="#000" stroke-width="1.3" stroke-linecap="butt" />
<line x1="72.6" y1="199.35000000000002" x2="78.3" y2="199.35000000000002" stroke="#000" stroke-width="1.5" stroke-linecap="butt" />
<text x="70.1" y="203.65000000000003" font-size="16.6" font-weight="bold" text-anchor="end" textLength="16.16" lengthAdjust="spacingAndGlyphs" stroke="#000" stroke-width="0.3">50</text>
<line x1="75.3" y1="186.05" x2="78.3" y2="186.05" stroke="#000" stroke-width="1.3" stroke-linecap="butt" />
<line x1="72.6" y1="172.8" x2="78.3" y2="172.8" stroke="#000" stroke-width="1.5" stroke-linecap="butt" />
<text x="70.1" y="177.10000000000002" font-size="16.6" font-weight="bold" text-anchor="end" textLength="16.16" lengthAdjust="spacingAndGlyphs" stroke="#000" stroke-width="0.3">55</text>
<line x1="78.3" y1="451.6" x2="78.3" y2="457" stroke="#000" stroke-width="1.5" stroke-linecap="butt" />
<text x="78.3" y="472.0" font-size="16.6" font-weight="bold" text-anchor="middle" textLength="8.08" lengthAdjust="spacingAndGlyphs" stroke="#000" stroke-width="0.3">2</text>
<line x1="97.44999999999999" y1="451.6" x2="97.44999999999999" y2="454.8" stroke="#000" stroke-width="1.3" stroke-linecap="butt" />
<line x1="116.6" y1="451.6" x2="116.6" y2="457" stroke="#000" stroke-width="1.5" stroke-linecap="butt" />
<text x="116.6" y="472.0" font-size="16.6" font-weight="bold" text-anchor="middle" textLength="8.08" lengthAdjust="spacingAndGlyphs" stroke="#000" stroke-width="0.3">3</text>
<line x1="135.75" y1="451.6" x2="135.75" y2="454.8" stroke="#000" stroke-width="1.3" stroke-linecap="butt" />
<line x1="154.89999999999998" y1="451.6" x2="154.89999999999998" y2="457" stroke="#000" stroke-width="1.5" stroke-linecap="butt" />
<text x="154.89999999999998" y="472.0" font-size="16.6" font-weight="bold" text-anchor="middle" textLength="8.08" lengthAdjust="spacingAndGlyphs" stroke="#000" stroke-width="0.3">4</text>
<line x1="174.04999999999998" y1="451.6" x2="174.04999999999998" y2="454.8" stroke="#000" stroke-width="1.3" stroke-linecap="butt" />
<line x1="193.2" y1="451.6" x2="193.2" y2="457" stroke="#000" stroke-width="1.5" stroke-linecap="butt" />
<text x="193.2" y="472.0" font-size="16.6" font-weight="bold" text-anchor="middle" textLength="8.08" lengthAdjust="spacingAndGlyphs" stroke="#000" stroke-width="0.3">5</text>
<line x1="212.35" y1="451.6" x2="212.35" y2="454.8" stroke="#000" stroke-width="1.3" stroke-linecap="butt" />
<line x1="231.5" y1="451.6" x2="231.5" y2="457" stroke="#000" stroke-width="1.5" stroke-linecap="butt" />
<text x="231.5" y="472.0" font-size="16.6" font-weight="bold" text-anchor="middle" textLength="8.08" lengthAdjust="spacingAndGlyphs" stroke="#000" stroke-width="0.3">6</text>
<line x1="250.65" y1="451.6" x2="250.65" y2="454.8" stroke="#000" stroke-width="1.3" stroke-linecap="butt" />
<line x1="269.8" y1="451.6" x2="269.8" y2="457" stroke="#000" stroke-width="1.5" stroke-linecap="butt" />
<text x="269.8" y="472.0" font-size="16.6" font-weight="bold" text-anchor="middle" textLength="8.08" lengthAdjust="spacingAndGlyphs" stroke="#000" stroke-width="0.3">7</text>
<line x1="288.95" y1="451.6" x2="288.95" y2="454.8" stroke="#000" stroke-width="1.3" stroke-linecap="butt" />
<line x1="308.09999999999997" y1="451.6" x2="308.09999999999997" y2="457" stroke="#000" stroke-width="1.5" stroke-linecap="butt" />
<text x="308.09999999999997" y="472.0" font-size="16.6" font-weight="bold" text-anchor="middle" textLength="8.08" lengthAdjust="spacingAndGlyphs" stroke="#000" stroke-width="0.3">8</text>
<line x1="327.24999999999994" y1="451.6" x2="327.24999999999994" y2="454.8" stroke="#000" stroke-width="1.3" stroke-linecap="butt" />
<line x1="346.4" y1="451.6" x2="346.4" y2="457" stroke="#000" stroke-width="1.5" stroke-linecap="butt" />
<text x="346.4" y="472.0" font-size="16.6" font-weight="bold" text-anchor="middle" textLength="8.08" lengthAdjust="spacingAndGlyphs" stroke="#000" stroke-width="0.3">9</text>
<line x1="365.54999999999995" y1="451.6" x2="365.54999999999995" y2="454.8" stroke="#000" stroke-width="1.3" stroke-linecap="butt" />
<line x1="384.7" y1="451.6" x2="384.7" y2="457" stroke="#000" stroke-width="1.5" stroke-linecap="butt" />
<text x="384.7" y="472.0" font-size="16.6" font-weight="bold" text-anchor="middle" textLength="16.16" lengthAdjust="spacingAndGlyphs" stroke="#000" stroke-width="0.3">10</text>
<line x1="403.84999999999997" y1="451.6" x2="403.84999999999997" y2="454.8" stroke="#000" stroke-width="1.3" stroke-linecap="butt" />
<line x1="423.0" y1="451.6" x2="423.0" y2="457" stroke="#000" stroke-width="1.5" stroke-linecap="butt" />
<text x="423.0" y="472.0" font-size="16.6" font-weight="bold" text-anchor="middle" textLength="15.35" lengthAdjust="spacingAndGlyphs" stroke="#000" stroke-width="0.3">11</text>
<text x="188.6" y="485.9" font-size="16.8" font-weight="bold" text-anchor="start" textLength="124.8" lengthAdjust="spacingAndGlyphs" >log (copy number)</text>
<text transform="translate(43.9,372.8) rotate(-90)" font-size="17" font-weight="bold" textLength="115.6" lengthAdjust="spacingAndGlyphs">Threshold Cycle</text>
<text x="248.4" y="235.0" font-size="15.2" font-weight="bold" text-anchor="start" textLength="11.0" lengthAdjust="spacingAndGlyphs" >R</text>
<text x="259.9" y="224.4" font-size="15.2" font-weight="bold" text-anchor="start" textLength="7.0" lengthAdjust="spacingAndGlyphs" >2</text>
<text x="266.3" y="235.0" font-size="15.2" font-weight="bold" text-anchor="start" textLength="42.6" lengthAdjust="spacingAndGlyphs" >=0.997</text>
<line x1="131.4" y1="212.4" x2="404.4" y2="453.9" stroke="#000" stroke-width="1.6" stroke-linecap="butt" />
<rect x="113.3" y="194.6" width="5.5" height="11.3" fill="#000"/>
<rect x="152.3" y="230.2" width="5.4" height="5.5" fill="#000"/>
<rect x="152.3" y="241.4" width="5.4" height="5" fill="#000"/>
<rect x="190.4" y="263.8" width="5.3" height="5.4" fill="#000"/>
<rect x="190.4" y="275.3" width="5.3" height="8.7" fill="#000"/>
<rect x="228.8" y="301.6" width="5.4" height="5.1" fill="#000"/>
<rect x="228.8" y="308.7" width="5.4" height="11.8" fill="#000"/>
<rect x="267.2" y="339.8" width="5.1" height="10.5" fill="#000"/>
<rect x="305.7" y="371.1" width="5.1" height="10.1" fill="#000"/>
<rect x="344.3" y="401.9" width="5.3" height="11.1" fill="#000"/>
<rect x="382.5" y="425.7" width="5.1" height="8.8" fill="#000"/>
</g>
</svg>
</body></html>
